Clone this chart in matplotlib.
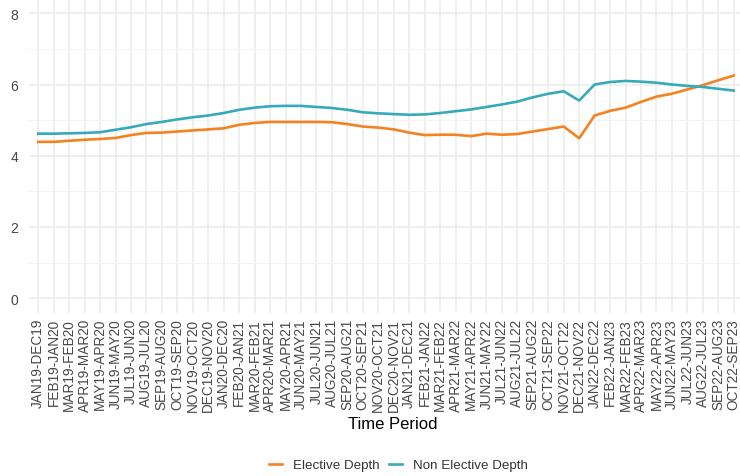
import matplotlib
matplotlib.use("Agg")
import matplotlib.pyplot as plt

# ---- data ----
periods = [
    "JAN19-DEC19", "FEB19-JAN20", "MAR19-FEB20", "APR19-MAR20", "MAY19-APR20",
    "JUN19-MAY20", "JUL19-JUN20", "AUG19-JUL20", "SEP19-AUG20", "OCT19-SEP20",
    "NOV19-OCT20", "DEC19-NOV20", "JAN20-DEC20", "FEB20-JAN21", "MAR20-FEB21",
    "APR20-MAR21", "MAY20-APR21", "JUN20-MAY21", "JUL20-JUN21", "AUG20-JUL21",
    "SEP20-AUG21", "OCT20-SEP21", "NOV20-OCT21", "DEC20-NOV21", "JAN21-DEC21",
    "FEB21-JAN22", "MAR21-FEB22", "APR21-MAR22", "MAY21-APR22", "JUN21-MAY22",
    "JUL21-JUN22", "AUG21-JUL22", "SEP21-AUG22", "OCT21-SEP22", "NOV21-OCT22",
    "DEC21-NOV22", "JAN22-DEC22", "FEB22-JAN23", "MAR22-FEB23", "APR22-MAR23",
    "MAY22-APR23", "JUN22-MAY23", "JUL22-JUN23", "AUG22-JUL23", "SEP22-AUG23",
    "OCT22-SEP23",
]

elective = [
    4.39, 4.39, 4.42, 4.45, 4.47, 4.50, 4.58, 4.64, 4.65, 4.68,
    4.71, 4.74, 4.77, 4.87, 4.92, 4.95, 4.95, 4.95, 4.95, 4.94,
    4.89, 4.82, 4.79, 4.74, 4.65, 4.58, 4.59, 4.59, 4.55, 4.62,
    4.59, 4.61, 4.68, 4.75, 4.82, 4.49, 5.13, 5.26, 5.35, 5.51,
    5.66, 5.74, 5.86, 5.98, 6.12, 6.25,
]

non_elective = [
    4.62, 4.62, 4.63, 4.64, 4.66, 4.73, 4.80, 4.89, 4.95, 5.02,
    5.08, 5.13, 5.20, 5.29, 5.35, 5.39, 5.40, 5.40, 5.37, 5.34,
    5.29, 5.22, 5.19, 5.17, 5.15, 5.16, 5.20, 5.25, 5.30, 5.37,
    5.44, 5.52, 5.64, 5.74, 5.81, 5.55, 6.00, 6.07, 6.10, 6.08,
    6.05, 6.00, 5.96, 5.93, 5.88, 5.83,
]

ORANGE = "#F5821F"
TEAL = "#36AABA"
GREY = "#484848"

plt.rcParams["font.family"] = ["Liberation Sans", "DejaVu Sans"]

W, H = 740, 477
fig = plt.figure(figsize=(W / 100, H / 100), dpi=100)
ax = fig.add_axes([29 / W, 1 - 313.5 / H, (743 - 29) / W, 313.5 / H])

x = list(range(len(periods)))
ax.plot(x, elective, color=ORANGE, lw=1.9, label="Elective Depth")
ax.plot(x, non_elective, color=TEAL, lw=1.9, label="Non Elective Depth")

ax.set_xlim(-0.6, len(periods) - 1 + 0.6)
ax.set_ylim(-0.4, 8.4)
ax.set_xticks(x)
ax.set_xticklabels(periods, rotation=90, fontsize=9.8, color=GREY)
ax.set_yticks([0, 2, 4, 6, 8])
ax.set_yticks([1, 3, 5, 7], minor=True)
ax.tick_params(axis="y", labelsize=10, colors=GREY, length=0, pad=8)
ax.tick_params(axis="y", which="minor", length=0)
ax.tick_params(axis="x", length=0, pad=4)

ax.grid(which="major", color="#EBEBEB", lw=1.1)
ax.grid(which="minor", axis="y", color="#F3F3F3", lw=0.7)
ax.set_axisbelow(True)
for s in ax.spines.values():
    s.set_visible(False)

fig.text(393 / W, 1 - 425 / H, "Time Period", ha="center", va="center", fontsize=12)

leg = fig.legend(loc="center", bbox_to_anchor=(398 / W, 1 - 466 / H), ncol=2,
                 frameon=False, fontsize=9.6, handlelength=1.0, handletextpad=0.8,
                 columnspacing=0.7)
for t in leg.get_texts():
    t.set_color("#333333")

fig.savefig("out.png", dpi=100)
